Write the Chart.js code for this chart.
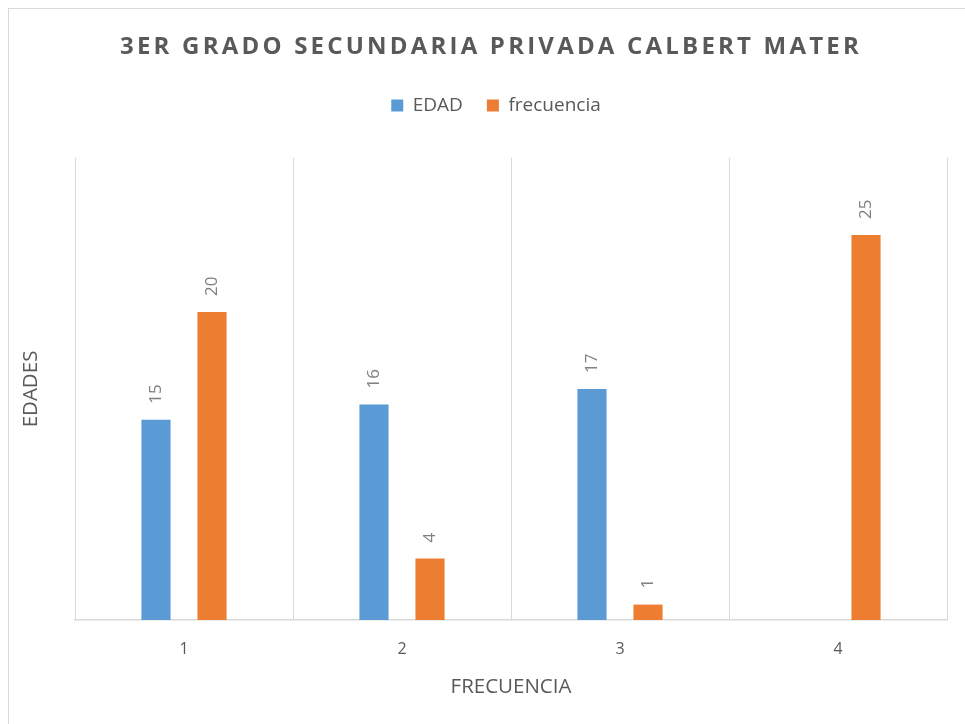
<!DOCTYPE html>
<html>
<head>
<meta charset="utf-8">
<script src="https://cdn.jsdelivr.net/npm/chart.js@4.4.1/dist/chart.umd.min.js"></script>
<style>
  body { margin: 0; background: #fff; overflow: hidden; }
  #frame { position: absolute; left: 8px; top: 8px; width: 1000px; height: 1000px; border: 1px solid #d9d9d9; }
  #grafico { position: absolute; left: 0; top: 0; }
</style>
</head>
<body>
<div id="frame"></div>
<canvas id="grafico" width="965" height="724"></canvas>
<script>
var titulo = '3ER GRADO SECUNDARIA PRIVADA CALBERT MATER';
var categorias = ['1', '2', '3', '4'];
var edad = [15, 16, 17, null];
var frecuencia = [20, 4, 1, 25];

var gris = '#595959';

// titulo con espaciado entre letras (Chart.js no lo soporta)
var tituloPlugin = {
   id: 'tituloEspaciado',
   afterDraw: function(chart) {
      var ctx = chart.ctx;
      ctx.save();
      ctx.font = 'bold 24px "Open Sans"';
      ctx.letterSpacing = '3.2px';
      ctx.fillStyle = gris;
      ctx.textAlign = 'center';
      ctx.textBaseline = 'middle';
      ctx.fillText(titulo, 491, 47);
      ctx.restore();
   }
};

// etiquetas de datos verticales encima de cada barra
var etiquetasPlugin = {
   id: 'etiquetas',
   afterDatasetsDraw: function(chart) {
      var ctx = chart.ctx;
      ctx.save();
      ctx.font = '17px "Open Sans"';
      ctx.fillStyle = '#808080';
      ctx.textAlign = 'left';
      ctx.textBaseline = 'middle';
      chart.data.datasets.forEach(function(ds, i) {
         chart.getDatasetMeta(i).data.forEach(function(bar, j) {
            if (ds.data[j] === null) return;
            ctx.save();
            ctx.translate(bar.x, bar.y - 16);
            ctx.rotate(-Math.PI / 2);
            ctx.fillText(ds.data[j], 0, 0);
            ctx.restore();
         });
      });
      ctx.restore();
   }
};

// leyenda: mas espacio debajo y centrada como en el original
var leyendaPlugin = {
   id: 'leyendaPos',
   beforeLayout: function(chart) {
      var lg = chart.legend;
      if (lg && !lg._ajustada) {
         var fit = lg.fit;
         lg.fit = function() {
            fit.call(this);
            this.height += 33;
         };
         lg._ajustada = true;
      }
   },
   afterLayout: function(chart) {
      chart.legend.left = 27;
      chart.legend.right = 965;
   }
};

var ctx = grafico.getContext('2d');
var config = {
   type: 'bar',
   data: {
      labels: categorias,
      datasets: [{
         label: 'EDAD',
         data: edad,
         backgroundColor: '#5B9BD5',
         yAxisID: 'y1'
      },
      {
         label: 'frecuencia',
         data: frecuencia,
         backgroundColor: '#ED7D31',
         yAxisID: 'y'
      }]
   },
   options: {
      responsive: false,
      animation: false,
      categoryPercentage: 0.514,
      barPercentage: 0.52,
      layout: { padding: { top: 72, left: 0, right: 18, bottom: 0 } },
      plugins: {
         title: { display: false },
         tooltip: { enabled: false },
         legend: {
            position: 'top',
            labels: {
               boxWidth: 12,
               boxHeight: 12,
               padding: 24,
               color: gris,
               font: { family: 'Open Sans', size: 19 }
            }
         }
      },
      scales: {
         x: {
            grid: { color: '#d9d9d9', drawTicks: false, offset: true },
            border: { color: '#d9d9d9', width: 1.5 },
            ticks: { color: gris, padding: 20, font: { family: 'Open Sans', size: 16 } },
            title: {
               display: true,
               text: 'FRECUENCIA',
               color: gris,
               font: { family: 'Open Sans', size: 20.5 },
               padding: { top: 0, bottom: 25 }
            },
            afterFit: function(scale) { scale.height = 104; }
         },
         y: {
            min: 0,
            max: 30,
            grid: { display: false },
            border: { display: false },
            ticks: { display: false },
            title: {
               display: true,
               text: 'EDADES',
               color: gris,
               font: { family: 'Open Sans', size: 20.5 },
               padding: { top: 19, bottom: 0 }
            },
            afterFit: function(scale) { scale.width = 75; }
         },
         y1: {
            display: false,
            min: 2,
            max: 32
         }
      }
   },
   plugins: [tituloPlugin, etiquetasPlugin, leyendaPlugin]
};

var chart = new Chart(ctx, config);
</script>
</body>
</html>
